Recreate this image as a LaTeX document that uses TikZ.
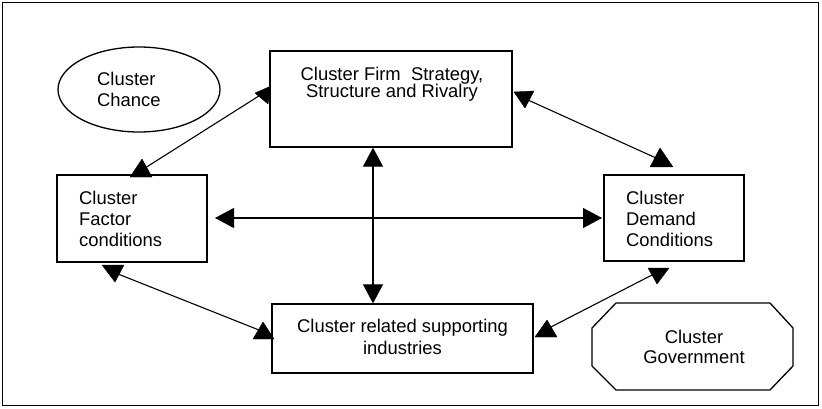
\documentclass[tikz,border=0pt]{standalone}
\usepackage{fontspec}
\setmainfont{Liberation Sans}
\usetikzlibrary{arrows.meta,shapes.geometric}
\begin{document}
\begin{tikzpicture}[x=1pt,y=-1pt,
  box/.style={draw,line width=1.3pt,inner sep=0pt},
  lbl/.style={inner sep=0pt,anchor=north},
  link/.style={line width=1.1pt},
  tipped/.style={link,{Triangle[length=19pt,width=20pt]}-{Triangle[length=19pt,width=20pt]}},
  head/.style={fill=black,draw=black,line width=0.4pt,line join=round}]
  \useasboundingbox (0,0) rectangle (822,409);
  % outer frame
  \draw[line width=1.3pt] (2.5,2.5) rectangle (818.5,405.5);
  % boxes
  \node[box,minimum width=242pt,minimum height=96pt] (firm) at (391,99) {};
  \node[box,minimum width=150pt,minimum height=87pt] (factor) at (132,218.5) {};
  \node[box,minimum width=140pt,minimum height=86pt] (demand) at (674,218) {};
  \node[box,minimum width=261pt,minimum height=69pt] (related) at (402.5,338.5) {};
  \node[box,ellipse,minimum width=162pt,minimum height=85pt] (chance) at (139,89.5) {};
  \draw[line width=1.3pt] (616,303) -- (770,303) -- (793,328) -- (793,366)
    -- (770,390) -- (616,390) -- (592,366) -- (592,328) -- cycle;
  \coordinate (gov) at (693,346.5);
  % labels
  \node[lbl,align=center,font=\fontsize{18.4}{17.4}\selectfont] (firmtxt) at (392,67)
    {Cluster Firm\ \ Strategy,\\Structure and Rivalry};
  \node[lbl,anchor=north west,align=left,font=\fontsize{18.4}{21}\selectfont] (factortxt) at (79,191)
    {Cluster\\Factor\\conditions};
  \node[lbl,anchor=north west,align=left,font=\fontsize{18.4}{21}\selectfont] (demandtxt) at (626,191)
    {Cluster\\Demand\\Conditions};
  \node[lbl,align=center,font=\fontsize{18.4}{22}\selectfont] (relatedtxt) at (402.5,319)
    {Cluster related supporting\\industries};
  \node[lbl,anchor=north west,align=left,font=\fontsize{18.4}{21}\selectfont] (chancetxt) at (97,72)
    {Cluster\\Chance};
  \node[lbl,align=center,font=\fontsize{18.4}{20}\selectfont] (govtxt) at (694,330)
    {Cluster\\Government};
  % straight connectors
  \draw[tipped] (firm.south -| 373,0) -- (related.north -| 373,0);
  \coordinate (hL) at (215,218);
  \coordinate (hR) at (602,218);
  \draw[tipped] (hL) -- (hR);
  % slanted connectors with their arrow heads
  \coordinate (fA) at (262,94);
  \coordinate (fB) at (145,168);
  \draw[link] (fA) -- (fB);
  \filldraw[head] (255,93) -- (271,86) -- (268,104) -- cycle;
  \filldraw[head] (130,177) -- (152,177) -- (142,159) -- cycle;
  \coordinate (fC) at (528,100);
  \coordinate (dA) at (656,158);
  \draw[link] (fC) -- (dA);
  \filldraw[head] (514,92) -- (534,91) -- (525,108) -- cycle;
  \filldraw[head] (650,167) -- (673,167) -- (660,148) -- cycle;
  \coordinate (fD) at (118,274);
  \coordinate (rL) at (264,332);
  \draw[link] (fD) -- (rL);
  \filldraw[head] (102,265) -- (124,265) -- (115,282) -- cycle;
  \filldraw[head] (253,339) -- (274,339) -- (263,322) -- cycle;
  \coordinate (dB) at (652,275);
  \coordinate (rR) at (547,329);
  \draw[link] (dB) -- (rR);
  \filldraw[head] (648,268) -- (669,268) -- (657,284) -- cycle;
  \filldraw[head] (535,337) -- (557,337) -- (547,320) -- cycle;
\end{tikzpicture}
\end{document}
